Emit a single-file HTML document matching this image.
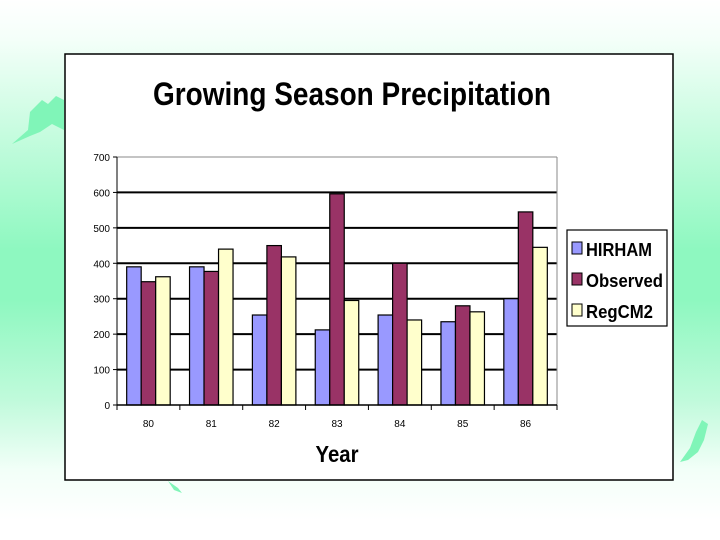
<!DOCTYPE html>
<html><head><meta charset="utf-8"><style>
html,body{margin:0;padding:0;}
body{width:720px;height:540px;overflow:hidden;position:relative;font-family:"Liberation Sans",sans-serif;
background:linear-gradient(to bottom,#ffffff 0px,#f4fff9 40px,#c8fce0 130px,#8ef8c0 250px,#8ef8c0 300px,#c0fadb 400px,#f2fff8 470px,#ffffff 520px);}
</style></head><body>
<svg width="720" height="540" style="position:absolute;left:0;top:0">
<path d="M12,144 L28,130 L30,112 L42,100 L48,104 L56,96 L64,100 L64,130 L52,124 L40,132 L30,136 Z" fill="#80f5b8"/>
<path d="M680,462 L690,448 L696,432 L702,420 L708,424 L704,440 L698,452 L688,460 Z" fill="#80f5b8"/>
<path d="M168,481 L178,488 L182,493 L174,490 Z" fill="#80f5b8"/>
<rect x="65" y="54" width="608" height="426" fill="#fff" stroke="#000" stroke-width="1.5"/>
<text x="352" y="105" text-anchor="middle" font-size="32" font-weight="bold" font-family="Liberation Sans,sans-serif" textLength="398" lengthAdjust="spacingAndGlyphs">Growing Season Precipitation</text>
<g id="plot"></g>
<text x="337" y="462" text-anchor="middle" font-size="23" font-weight="bold" textLength="43" lengthAdjust="spacingAndGlyphs">Year</text>
<g>
<rect x="567" y="230" width="100" height="96" fill="#fff" stroke="#000" stroke-width="1.2"/>
<rect x="572" y="242" width="10" height="12" fill="#9999ff" stroke="#000"/>
<text x="586" y="256" font-size="18" font-weight="bold" textLength="66" lengthAdjust="spacingAndGlyphs">HIRHAM</text>
<rect x="572" y="273" width="10" height="12" fill="#993366" stroke="#000"/>
<text x="586" y="287" font-size="18" font-weight="bold" textLength="77" lengthAdjust="spacingAndGlyphs">Observed</text>
<rect x="572" y="304" width="10" height="12" fill="#ffffcc" stroke="#000"/>
<text x="586" y="318" font-size="18" font-weight="bold" textLength="67" lengthAdjust="spacingAndGlyphs">RegCM2</text>
</g>
</svg>
<script>
const categories=["80","81","82","83","84","85","86"];
const hirham=[390,390,254,212,254,235,300];
const observed=[348,377,450,596,400,280,545];
const regcm2=[362,440,418,295,240,263,445];
const yTicks=[0,100,200,300,400,500,600,700];
const NS="http://www.w3.org/2000/svg";
const X0=117,X1=557,Y0=405,Y1=157,YMAX=700;
const y=v=>Y0-(v/YMAX)*(Y0-Y1);
const bw=(X1-X0)/categories.length;
const g=document.getElementById('plot');
function mk(t,a){const e=document.createElementNS(NS,t);for(const k in a)e.setAttribute(k,a[k]);g.appendChild(e);return e;}
yTicks.forEach(t=>{
 const l=mk('line',{x1:X0,x2:X1,y1:y(t),y2:y(t),stroke:t===700?'#888':'#000','stroke-width':t===0||t===700?1:2});
 
 
 const tk=mk('line',{x1:X0-4,x2:X0,y1:y(t),y2:y(t),stroke:'#000'});
 
 
 const tx=mk('text',{x:X0-7,y:y(t)+4,'text-anchor':'end','font-size':10,'font-family':'Liberation Sans,sans-serif'});
 tx.textContent=t;
 
 
});
const ax=mk('line',{x1:X0,x2:X0,y1:Y1,y2:Y0,stroke:'#000','stroke-width':1});


const ra=mk('line',{x1:X1,x2:X1,y1:Y1,y2:Y0,stroke:'#888','stroke-width':1});


const series=[[hirham,'#9999ff','hirham'],[observed,'#993366','observed'],[regcm2,'#ffffcc','regcm2']];
const barW=14.5;
categories.forEach((c,i)=>{
 const gx=X0+i*bw, start=gx+(bw-3*barW)/2;
 series.forEach((s,j)=>{
  const v=s[0][i];
  const r=mk('rect',{x:start+j*barW,y:y(v),width:barW,height:Y0-y(v),fill:s[1],stroke:'#000','stroke-width':1.2});
  
  
 });
 const tk=mk('line',{x1:gx,x2:gx,y1:Y0,y2:Y0+5,stroke:'#000'});
 
 
 const tx=mk('text',{x:gx+bw/2,y:Y0+22,'text-anchor':'middle','font-size':10,'font-family':'Liberation Sans,sans-serif'});
 tx.textContent=c;
 
 
});
const lt=mk('line',{x1:X1,x2:X1,y1:Y0,y2:Y0+5,stroke:'#000'});


const xa=mk('line',{x1:X0,x2:X1,y1:Y0,y2:Y0,stroke:'#000','stroke-width':1.5});


</script>
</body></html>
